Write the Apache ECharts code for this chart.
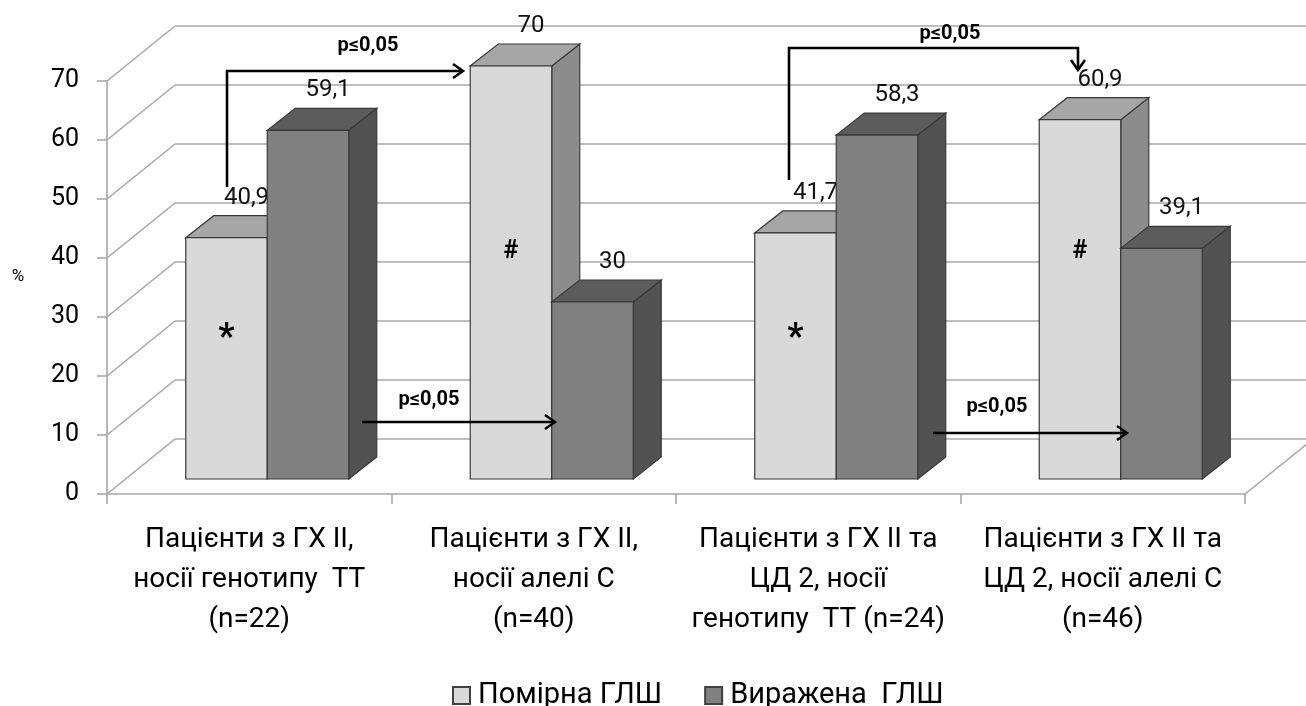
<!DOCTYPE html>
<html><head><meta charset="utf-8">
<script src="https://cdn.jsdelivr.net/npm/echarts@6/dist/echarts.min.js"></script>
<style>html,body{margin:0;padding:0;background:#fff}#c{width:1306px;height:706px}</style>
</head><body><div id="c"></div>
<script>
// ---- data ----
const categories = [
  'Пацієнти з ГХ ІІ,\nносії генотипу  ТТ\n(n=22)',
  'Пацієнти з ГХ ІІ,\nносії алелі С\n(n=40)',
  'Пацієнти з ГХ ІІ та\nЦД 2, носії\nгенотипу  ТТ (n=24)',
  'Пацієнти з ГХ ІІ та\nЦД 2, носії алелі С\n(n=46)'
];
const seriesNames = ['Помірна ГЛШ', 'Виражена  ГЛШ'];
const moderate = [40.9, 70, 41.7, 60.9];
const severe = [59.1, 30, 58.3, 39.1];
const moderateMarks = ['*', '#', '*', '#'];
const yTicks = [0, 10, 20, 30, 40, 50, 60, 70];
const pLabel = 'p≤0,05';

// ---- style constants ----
const FONT = 'Roboto';
const WALL = [68, -55];
const FRONT = [18, -15];
const DEPTH = [28, -22];
const BAR_FRAC = 0.2865;
const GRID_COLOR = '#a8a8a8';
const COLORS = [
  {front: '#d9d9d9', top: '#a6a6a6', side: '#8c8c8c'},
  {front: '#808080', top: '#5c5c5c', side: '#525252'}
];
const MARK_LEVEL = {'*': 24.4, '#': 38.6};

function fmt(v) { return String(v).replace('.', ','); }

function barRenderer(sIdx, marks) {
  const c = COLORS[sIdx];
  return function (params, api) {
    const i = api.value(0), v = api.value(1);
    const base = api.coord([i, 0]);
    const top = api.coord([i, v]);
    const band = api.size([1, 0])[0];
    const w = band * BAR_FRAC;
    const cx = base[0] + FRONT[0];
    const x0 = sIdx === 0 ? cx - w : cx;
    const x1 = x0 + w;
    const yb = base[1] + FRONT[1];
    const yt = top[1] + FRONT[1];
    const dx = DEPTH[0], dy = DEPTH[1];
    const stroke = '#3a3a3a';
    const children = [
      {type: 'polygon', shape: {points: [[x1, yb], [x1 + dx, yb + dy], [x1 + dx, yt + dy], [x1, yt]]},
        style: {fill: c.side, stroke: stroke, lineWidth: 1.2}},
      {type: 'polygon', shape: {points: [[x0, yt], [x1, yt], [x1 + dx, yt + dy], [x0 + dx, yt + dy]]},
        style: {fill: c.top, stroke: stroke, lineWidth: 1.2}},
      {type: 'polygon', shape: {points: [[x0, yb], [x1, yb], [x1, yt], [x0, yt]]},
        style: {fill: c.front, stroke: stroke, lineWidth: 1.2}},
      {type: 'text', x: x0 + w / 2 + 20, y: yt - 40,
        style: {text: fmt(v), fill: '#111', font: '24px ' + FONT, align: 'center', verticalAlign: 'middle'}}
    ];
    if (marks && marks[params.dataIndex]) {
      const m = marks[params.dataIndex];
      const my = api.coord([i, MARK_LEVEL[m]])[1] + FRONT[1];
      children.push({type: 'text', x: x0 + w / 2, y: m === '*' ? my + 4 : my,
        style: {text: m, fill: '#000', font: 'bold ' + (m === '*' ? 36 : 25) + 'px ' + FONT, align: 'center', verticalAlign: 'middle'}});
    }
    return {type: 'group', children: children};
  };
}

function wallRenderer(params, api) {
  const cs = params.coordSys;
  const v = api.value(1);
  const y = api.coord([0, v])[1];
  const st = {stroke: GRID_COLOR, lineWidth: 1.6};
  const ch = [{type: 'line', shape: {x1: cs.x, y1: y, x2: cs.x + WALL[0], y2: y + WALL[1]}, style: st}];
  if (v === 0) {
    ch.push({type: 'line', shape: {x1: cs.x + cs.width, y1: y, x2: cs.x + cs.width + WALL[0], y2: y + WALL[1]}, style: st});
  }
  return {type: 'group', children: ch};
}

const chart = echarts.init(document.getElementById('c'), null, {renderer: 'canvas'});

// annotation helpers (brackets/arrows)
function arrowRight(x, y) { return [[x - 10, y - 7], [x, y], [x - 10, y + 7]]; }
function arrowDown(x, y) { return [[x - 7, y - 10], [x, y], [x + 7, y - 10]]; }
function pl(points, w) { return {type: 'polyline', shape: {points: points}, style: {stroke: '#000', lineWidth: w || 2.6, fill: null}, z: 100}; }
function ptext(x, y) { return {type: 'text', x: x, y: y, style: {text: pLabel, fill: '#000', font: 'bold 20px ' + FONT, align: 'center', verticalAlign: 'middle'}, z: 100}; }

const option = {
  animation: false,
  backgroundColor: '#fff',
  textStyle: {fontFamily: FONT},
  grid: [
    {left: 107, right: 61, top: 81, bottom: 212},
    {left: 175, right: -7, top: 26, bottom: 267}
  ],
  xAxis: [
    {type: 'category', gridIndex: 0, data: categories,
      axisLine: {show: true, lineStyle: {color: GRID_COLOR, width: 1.6}},
      axisTick: {show: true, length: 10, lineStyle: {color: GRID_COLOR, width: 1.6}},
      axisLabel: {color: '#000', fontSize: 28, lineHeight: 40, margin: 26, fontFamily: FONT, interval: 0}},
    {type: 'value', gridIndex: 1, min: 0, max: 1, show: false}
  ],
  yAxis: [
    {type: 'value', gridIndex: 0, min: 0, max: 70, interval: 10,
      axisLine: {show: true, lineStyle: {color: GRID_COLOR, width: 1.6}},
      axisTick: {show: true, length: 10, lineStyle: {color: GRID_COLOR, width: 1.6}},
      axisLabel: {color: '#000', fontSize: 25, margin: 28, fontFamily: FONT},
      splitLine: {show: false}},
    {type: 'value', gridIndex: 1, min: 0, max: 70, interval: 10,
      axisLine: {show: false}, axisTick: {show: false}, axisLabel: {show: false},
      splitLine: {show: true, lineStyle: {color: GRID_COLOR, width: 1.6}}}
  ],
  legend: {
    data: seriesNames, top: 676, left: 447, icon: 'rect',
    itemWidth: 17, itemHeight: 17, itemGap: 42,
    textStyle: {color: '#000', fontSize: 29, fontFamily: FONT, padding: [0, 0, 0, 3]}
  },
  series: [
    {type: 'custom', name: 'wall', xAxisIndex: 0, yAxisIndex: 0,
      data: yTicks.map(v => [0, v]), encode: {x: 0, y: 1}, renderItem: wallRenderer, silent: true, z: 1},
    {type: 'custom', name: seriesNames[0], xAxisIndex: 0, yAxisIndex: 0,
      itemStyle: {color: COLORS[0].front, borderColor: '#404040', borderWidth: 1},
      data: moderate.map((v, i) => [i, v]), encode: {x: 0, y: 1},
      renderItem: barRenderer(0, moderateMarks), z: 2},
    {type: 'custom', name: seriesNames[1], xAxisIndex: 0, yAxisIndex: 0,
      itemStyle: {color: COLORS[1].front, borderColor: '#404040', borderWidth: 1},
      data: severe.map((v, i) => [i, v]), encode: {x: 0, y: 1},
      renderItem: barRenderer(1, null), z: 3}
  ],
  graphic: [
    {type: 'text', x: 18, y: 277, style: {text: '%', fill: '#000', fontSize: 17, fontFamily: FONT, align: 'center', verticalAlign: 'middle'}, z: 100},
    pl([[227, 187], [227, 71], [463, 71]]), pl(arrowRight(463, 71)), ptext(368, 46),
    pl([[362, 422], [555, 422]], 2.4), pl(arrowRight(555, 422), 2.4), ptext(429, 400),
    pl([[789, 180], [789, 48], [1078, 48], [1078, 70]]), pl(arrowDown(1078, 70)), ptext(950, 34),
    pl([[933, 433], [1127, 433]], 2.4), pl(arrowRight(1127, 433), 2.4), ptext(997, 407)
  ]
};
chart.setOption(option);
</script>
</body></html>
